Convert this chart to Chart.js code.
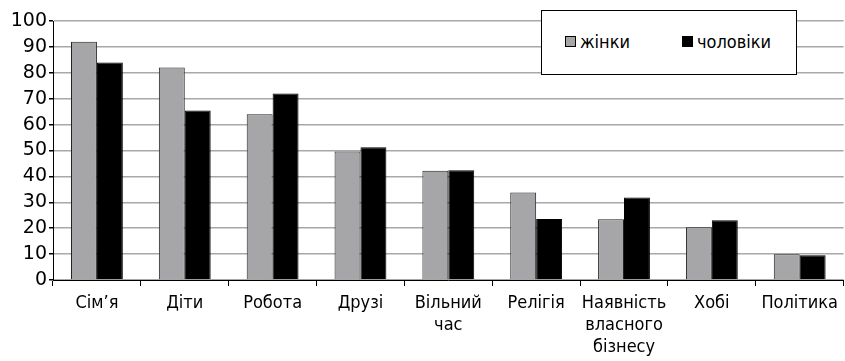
<!DOCTYPE html>
<html>
<head>
<meta charset="utf-8">
<script src="https://cdn.jsdelivr.net/npm/chart.js@4/dist/chart.umd.min.js"></script>
<style>
  html, body { margin: 0; padding: 0; background: #fff; }
  #wrap { position: relative; width: 845px; height: 361px; }
  #legend {
    position: absolute; left: 541px; top: 10px; width: 256px; height: 65px;
    background: #fff; border: 1px solid #000; box-sizing: border-box;
    font-family: 'DejaVu Sans Condensed', 'DejaVu Sans', sans-serif; font-size: 18px; color: #000;
  }
  #legend span.item { position: absolute; top: 20px; white-space: nowrap; line-height: 22px; }
  #legend i { display: inline-block; width: 9px; height: 9px; border: 1px solid #000; margin-right: 4px; vertical-align: 1px; }
</style>
</head>
<body>
<div id="wrap">
  <canvas id="chart" width="845" height="361"></canvas>
  <div id="legend">
    <span class="item" style="left:23px"><i style="background:#a6a6a8"></i>жінки</span>
    <span class="item" style="left:140px"><i style="background:#000"></i>чоловіки</span>
  </div>
</div>
<script>
// Цінності: жінки vs чоловіки, %
var categories = ['Сім’я', 'Діти', 'Робота', 'Друзі', ['Вільний', 'час'], 'Релігія', ['Наявність', 'власного', 'бізнесу'], 'Хобі', 'Політика'];
var women = [92, 82, 64, 49.6, 42.2, 33.8, 23.5, 20.4, 9.9];
var men = [84, 65.4, 72, 51.3, 42.4, 23.6, 31.9, 23.1, 9.6];
var seriesNames = ['жінки', 'чоловіки'];

var condensed = "'DejaVu Sans Condensed', 'DejaVu Sans', sans-serif";

new Chart(document.getElementById('chart'), {
  type: 'bar',
  data: {
    labels: categories,
    datasets: [{
      label: seriesNames[0],
      data: women,
      backgroundColor: '#a6a6a8',
      borderColor: '#222',
      borderWidth: 1,
      barPercentage: 1,
      categoryPercentage: 0.59
    }, {
      label: seriesNames[1],
      data: men,
      backgroundColor: '#000',
      borderColor: '#000',
      borderWidth: 1,
      barPercentage: 1,
      categoryPercentage: 0.59
    }]
  },
  options: {
    responsive: false,
    animation: false,
    layout: { padding: { top: 21, right: 0, left: 0, bottom: 0 } },
    plugins: {
      legend: { display: false },
      tooltip: { enabled: false }
    },
    scales: {
      x: {
        grid: { offset: true, drawOnChartArea: false, drawTicks: true, tickLength: 6, tickColor: '#000' },
        border: { color: '#000', width: 1 },
        ticks: { color: '#000', font: { family: condensed, size: 18, lineHeight: 1.2 }, maxRotation: 0, autoSkip: false, padding: 7 },
        afterFit: function(s) { s.height = 81; }
      },
      y: {
        min: 0,
        max: 100,
        ticks: { stepSize: 10, color: '#000', font: { family: "'DejaVu Sans', sans-serif", size: 19 }, padding: 2 },
        grid: { color: '#a8a8a8', lineWidth: 1.5, tickColor: '#000', tickLength: 4 },
        border: { color: '#000', width: 1 },
        afterFit: function(s) { s.width = 53; }
      }
    }
  }
});
</script>
</body>
</html>
